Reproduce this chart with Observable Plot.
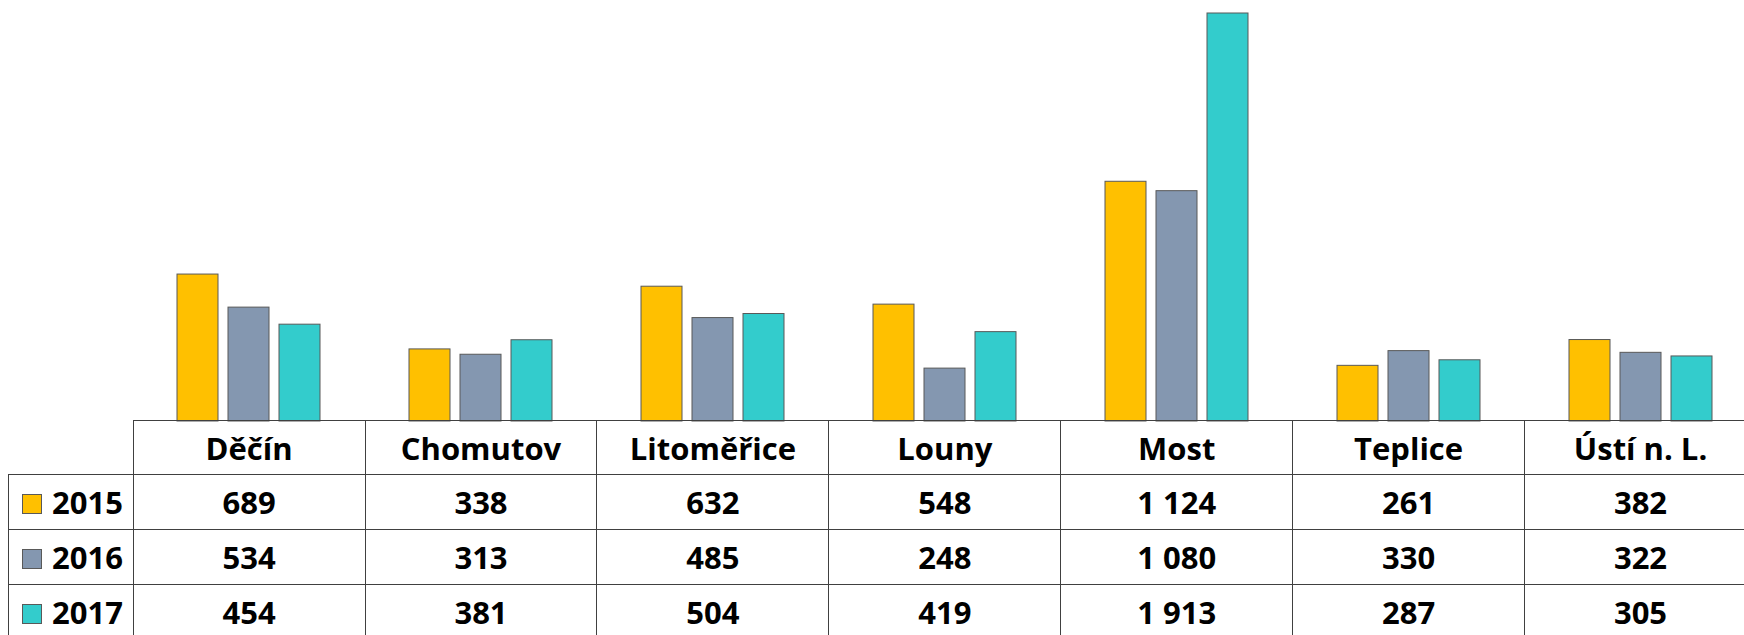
<!DOCTYPE html>
<html>
<head>
<meta charset="utf-8">
<script src="https://cdn.jsdelivr.net/npm/d3@7"></script>
<script src="https://cdn.jsdelivr.net/npm/@observablehq/plot@0.6"></script>
<style>
  html, body { margin: 0; padding: 0; background: #fff; overflow: hidden; }
  #wrap { position: relative; width: 1757px; height: 635px; overflow: hidden; }
  #chart { position: absolute; left: 0; top: 0; }
  table { position: absolute; left: 8px; top: 420px; border-collapse: collapse; table-layout: fixed;
          font-family: "Open Sans", sans-serif; font-weight: 700; font-size: 31px; color: #000; }
  td { border: 1px solid #404040; padding: 0; text-align: center; vertical-align: middle; white-space: nowrap; }
  td.blank { border: none; }
  td.leg { text-align: left; padding-left: 13px; }
  .sw { display: inline-block; width: 18px; height: 18px; border: 1px solid #595959; vertical-align: middle; margin-right: 10px; position: relative; top: -2px; }
  tr.h td { height: 53px; }
  tr.r td { height: 54px; }
</style>
</head>
<body>
<div id="wrap">
  <div id="chart"></div>
  <table id="tbl"></table>
</div>
<script>
const categories = ["Děčín", "Chomutov", "Litoměřice", "Louny", "Most", "Teplice", "Ústí n. L."];
const years = ["2015", "2016", "2017"];
const values2015 = [689, 338, 632, 548, 1124, 261, 382];
const values2016 = [534, 313, 485, 248, 1080, 330, 322];
const values2017 = [454, 381, 504, 419, 1913, 287, 305];
const colors = ["#FFC000", "#8497B0", "#33CCCC"];

const series = [values2015, values2016, values2017];
const rows = [];
categories.forEach((c, i) => {
  years.forEach((y, j) => rows.push({cat: c, year: y, value: series[j][i]}));
});

const plot = Plot.plot({
  width: 1757,
  height: 422,
  marginLeft: 133,
  marginRight: 0,
  marginTop: 13,
  marginBottom: 1,
  style: {maxWidth: "none", background: "#fff"},
  fx: {domain: categories, padding: 0, axis: null},
  x: {domain: years, paddingInner: 0.19, paddingOuter: 0.856, axis: null},
  y: {domain: [0, 1913], axis: null},
  color: {domain: years, range: colors},
  marks: [
    Plot.barY(rows, {fx: "cat", x: "year", y: "value", fill: "year", stroke: "#595959", strokeWidth: 1})
  ]
});
document.getElementById("chart").appendChild(plot);

// data table
const fmt = d3.formatLocale({decimal: ",", thousands: "\u00a0", grouping: [3], currency: ["", ""]}).format(",d");
const tbl = document.getElementById("tbl");
const cg = document.createElement("colgroup");
[124.7, ...categories.map(() => 232)].forEach(w => {
  const col = document.createElement("col");
  col.style.width = w + "px";
  cg.appendChild(col);
});
tbl.appendChild(cg);
const hr = document.createElement("tr");
hr.className = "h";
const blank = document.createElement("td");
blank.className = "blank";
hr.appendChild(blank);
categories.forEach(c => {
  const td = document.createElement("td");
  td.textContent = c;
  hr.appendChild(td);
});
tbl.appendChild(hr);
years.forEach((y, j) => {
  const tr = document.createElement("tr");
  tr.className = "r";
  const lt = document.createElement("td");
  lt.className = "leg";
  const sw = document.createElement("span");
  sw.className = "sw";
  sw.style.background = colors[j];
  lt.appendChild(sw);
  lt.appendChild(document.createTextNode(y));
  tr.appendChild(lt);
  series[j].forEach(v => {
    const td = document.createElement("td");
    td.textContent = fmt(v);
    tr.appendChild(td);
  });
  tbl.appendChild(tr);
});
</script>
</body>
</html>
